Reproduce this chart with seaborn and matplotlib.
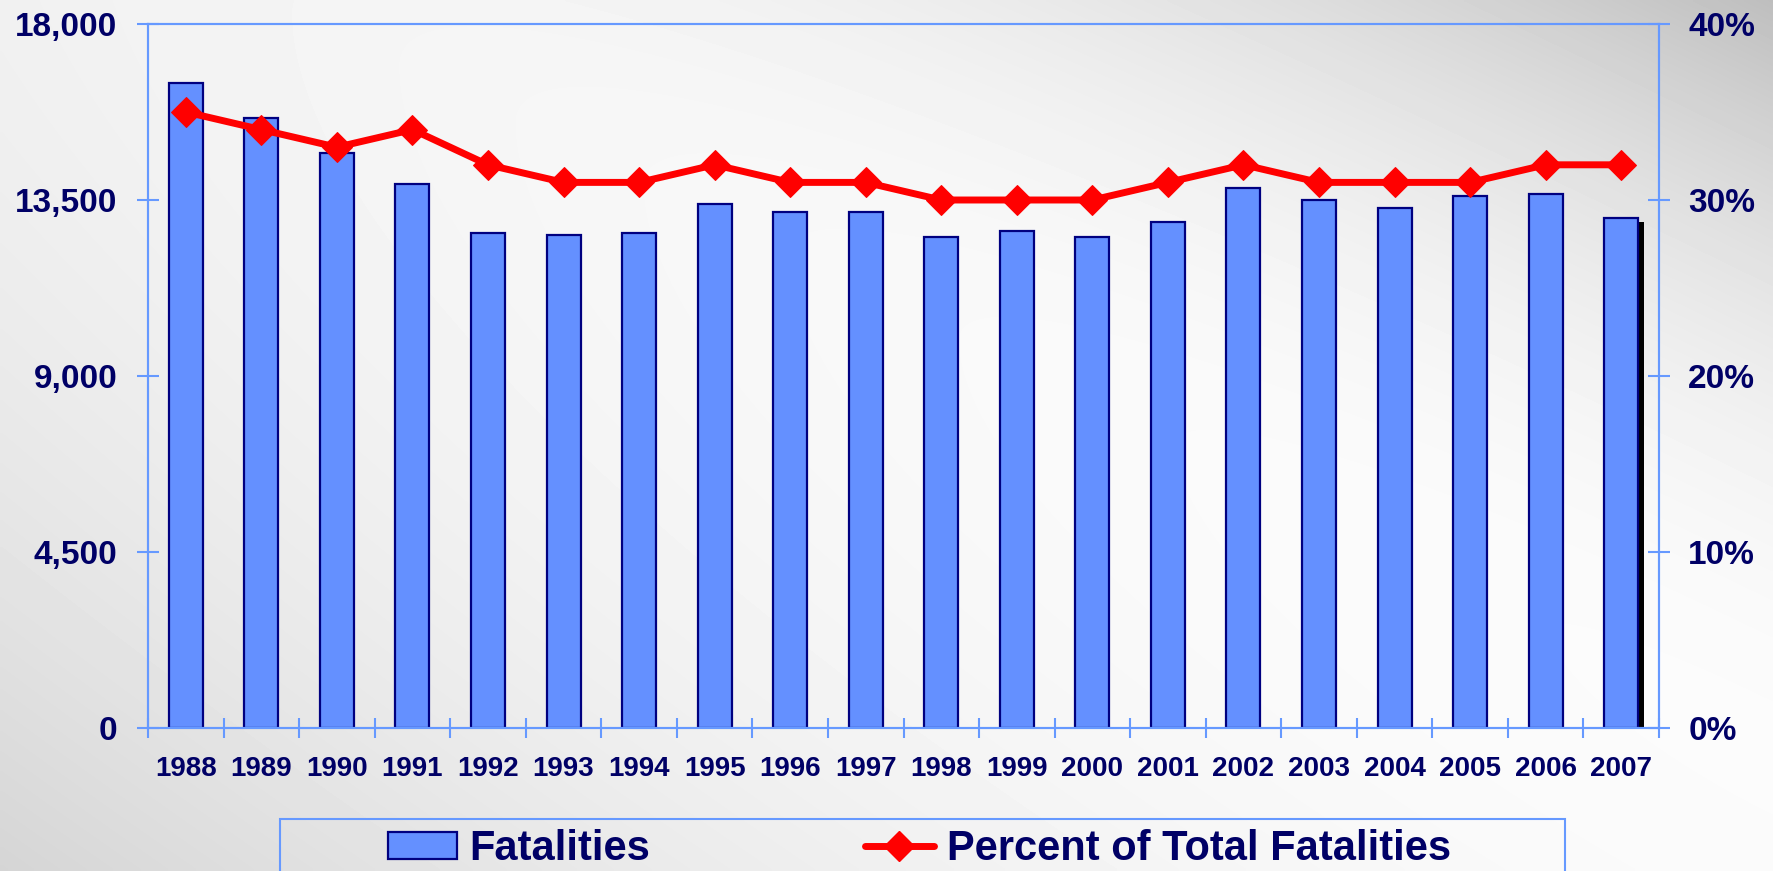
import numpy as np
import matplotlib
matplotlib.use("Agg")
import matplotlib.pyplot as plt
import matplotlib.patheffects as pe
from matplotlib.patches import Rectangle
from matplotlib.lines import Line2D
from matplotlib.ticker import FuncFormatter
import seaborn as sns
import pandas as pd

# ---- data ----
years = ["1988", "1989", "1990", "1991", "1992", "1993", "1994", "1995", "1996", "1997",
         "1998", "1999", "2000", "2001", "2002", "2003", "2004", "2005", "2006", "2007"]
fatalities = [16500, 15600, 14700, 13900, 12650, 12600, 12650, 13400, 13200, 13200,
              12550, 12700, 12550, 12950, 13800, 13500, 13300, 13600, 13650, 13050]
percent_total = [35, 34, 33, 34, 32, 31, 31, 32, 31, 31,
                 30, 30, 30, 31, 32, 31, 31, 31, 32, 32]
left_ticks = [0, 4500, 9000, 13500, 18000]
right_ticks = [0, 10, 20, 30, 40]
legend_labels = ["Fatalities", "Percent of Total Fatalities"]

NAVY = "#000066"
AXBLUE = "#6699FF"
BARBLUE = "#6490FF"
BAREDGE = "#000080"
RED = "#FF0000"

sns.set_theme(style="white")
plt.rcParams["font.family"] = ["Liberation Sans", "DejaVu Sans"]
plt.rcParams["font.weight"] = "bold"

W, H = 1774, 871
fig = plt.figure(figsize=(W / 100, H / 100), dpi=100)

# background gradient
bg = fig.add_axes([0, 0, 1, 1], zorder=-5)
gx, gy = np.meshgrid(np.linspace(0, 1, 400), np.linspace(0, 1, 200))
u = gx - gy
d = u - 0.15
g = np.where(d > 0, 0.24 * (d / 0.85) ** 2, 0.11 * (np.abs(d) / 1.15) ** 2)
val = 0.985 - g - 0.04 * (1 - gx) ** 2
bg.imshow(val, cmap="gray", vmin=0, vmax=1, aspect="auto", extent=[0, 1, 0, 1],
          interpolation="bilinear", origin="upper")
bg.axis("off")

left, right = 148 / W, 1659 / W
bottom, top = 1 - 728 / H, 1 - 24 / H
ax = fig.add_axes([left, bottom, right - left, top - bottom])
ax.set_facecolor("none")

df = pd.DataFrame({"year": years, "fatalities": fatalities, "pct": percent_total})
sns.barplot(data=df, x="year", y="fatalities", color=BARBLUE, edgecolor=BAREDGE,
            linewidth=1.6, width=0.45, saturation=1, ax=ax)
for p in ax.patches:
    p.set_facecolor(BARBLUE)
# shadow on last bar
ax.patches[-1].set_path_effects([pe.SimplePatchShadow(offset=(4.5, -3), shadow_rgbFace="black", alpha=1.0),
                                 pe.Normal()])

n = len(years)
ax.set_xlim(-0.5, n - 0.5)
ax.set_ylim(0, 18000)
ax.set_xticks(np.arange(n + 1) - 0.5)
ax.set_xticklabels([])
ax.set_xticks(np.arange(n), minor=True)
ax.set_xticklabels(years, minor=True)
ax.tick_params(axis="x", which="major", direction="inout", length=14, width=1.5, color=AXBLUE, bottom=True)
ax.tick_params(axis="x", which="minor", length=0, pad=20, labelsize=20, labelcolor=NAVY)
ax.set_yticks(left_ticks)
ax.yaxis.set_major_formatter(FuncFormatter(lambda v, _: f"{int(v):,}"))
ax.tick_params(axis="y", direction="inout", length=16, width=1.5, color=AXBLUE, left=True,
               pad=14, labelsize=24, labelcolor=NAVY)
ax.set_xlabel("")
ax.set_ylabel("")
for lab in ax.get_xticklabels(minor=True) + ax.get_yticklabels():
    lab.set_fontweight("bold")

ax2 = ax.twinx()
ax2.set_position([left, bottom, right - left, top - bottom])
sns.lineplot(x=np.arange(n), y=percent_total, color=RED, linewidth=5, marker="D",
             markersize=15, markeredgecolor=RED, markerfacecolor=RED, ax=ax2, zorder=5)
ax2.set_ylim(0, 40)
ax2.set_xlim(-0.5, n - 0.5)
ax2.set_yticks(right_ticks)
ax2.yaxis.set_major_formatter(FuncFormatter(lambda v, _: f"{int(v)}%"))
ax2.tick_params(axis="y", direction="inout", length=16, width=1.5, color=AXBLUE, right=True,
                pad=13, labelsize=24, labelcolor=NAVY)
for lab in ax2.get_yticklabels():
    lab.set_fontweight("bold")
ax2.set_ylabel("")

for a in (ax, ax2):
    for s in a.spines.values():
        s.set_visible(True)
        s.set_color(AXBLUE)
        s.set_linewidth(1.5)
    a.grid(False)

# legend
handles = [Rectangle((0, 0), 1, 1, facecolor=BARBLUE, edgecolor=BAREDGE, linewidth=1.6),
           Line2D([0], [0], color=RED, linewidth=5, marker="D", markersize=15,
                  markerfacecolor=RED, markeredgecolor=RED)]
leg = fig.legend(handles, legend_labels, loc="center left",
                 bbox_to_anchor=(388 / W, 1 - 849 / H), ncol=2, frameon=False,
                 borderpad=0, borderaxespad=0, handlelength=1.65, handleheight=0.6,
                 handletextpad=0.31, columnspacing=5.15,
                 prop={"weight": "bold", "size": 30}, labelcolor=NAVY)
fig.patches.append(Rectangle((280 / W, -0.1), (1565 - 280) / W, (871 - 819) / H + 0.1,
                             transform=fig.transFigure, fill=False, edgecolor=AXBLUE,
                             linewidth=1.5, zorder=3))

fig.savefig("out.png", dpi=100)
